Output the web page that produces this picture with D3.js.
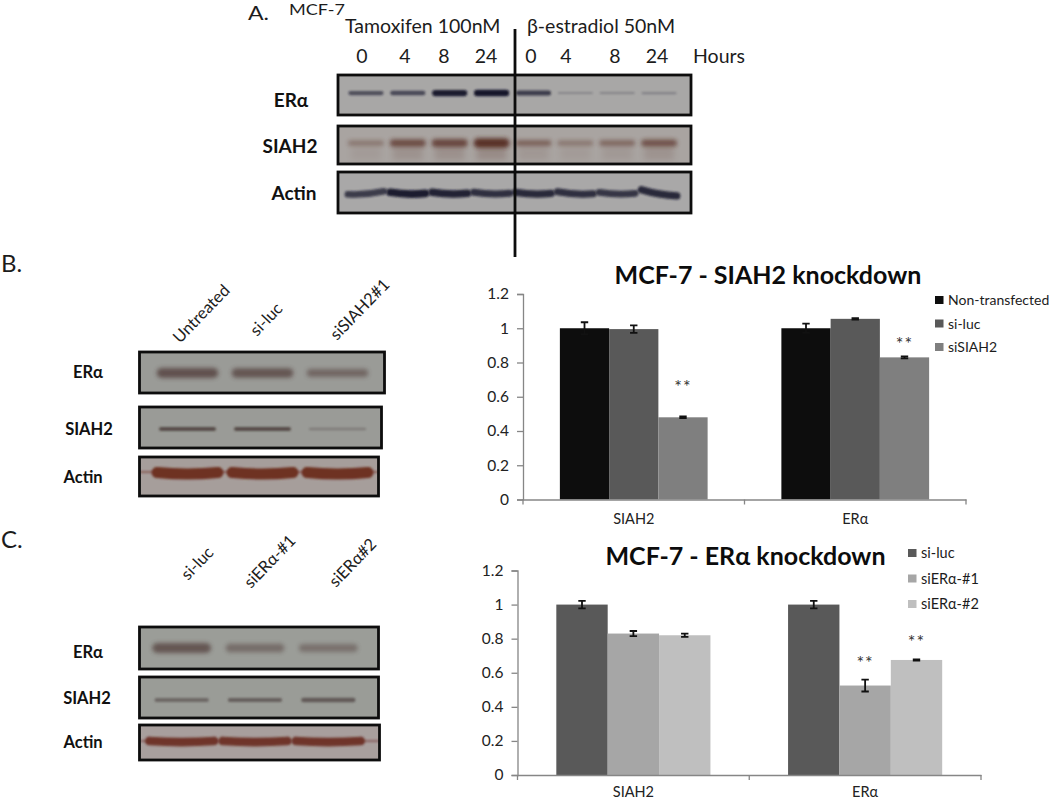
<!DOCTYPE html>
<html>
  <head>
    <title>MCF-7 knockdown</title>
    <script src="https://d3js.org/d3.v7.min.js"></script>
    <style>
      body { margin: 0; background: #fff; }
      text { font-family: Lato, "Open Sans", sans-serif; fill: #1c1c1c; }
      .row-label { font-weight: 700; fill: #111; }
      .title { font-weight: 700; fill: #0c0c0c; }
      .axis text { fill: #222; }
    </style>
  </head>
  <body>
    <svg width="1050" height="800"></svg>
    <script>
      // bar charts
      const geneCategories = ["SIAH2", "ERα"];
      const yTicks = [0, 0.2, 0.4, 0.6, 0.8, 1, 1.2];

      const siahSeries = ["Non-transfected", "si-luc", "siSIAH2"];
      const siahValues = [[1, 0.995, 0.48], [1, 1.055, 0.83]];
      const siahErrors = [[0.035, 0.022, 0.005], [0.027, 0.004, 0.006]];
      const siahStars = [[null, null, 0.668], [null, null, 0.922]];

      const erSeries = ["si-luc", "siERα-#1", "siERα-#2"];
      const erValues = [[1, 0.83, 0.82], [1, 0.525, 0.675]];
      const erErrors = [[0.022, 0.015, 0.01], [0.022, 0.035, 0.004]];
      const erStars = [[null, null, null], [null, 0.671, 0.79]];

      // blots: relative band intensity per lane
      const hourLanes = ["0", "4", "8", "24", "0 ", "4 ", "8 ", "24 "];
      const hourERa = [0.55, 0.6, 0.95, 1, 0.7, 0.12, 0.14, 0.15];
      const hourSIAH2 = [0.3, 0.65, 0.7, 0.9, 0.45, 0.3, 0.4, 0.6];
      const hourActin = [0.7, 0.95, 0.9, 0.8, 0.85, 0.8, 0.75, 0.85];

      const siahLanes = ["Untreated", "si-luc", "siSIAH2#1"];
      const siahLaneERa = [0.7, 0.65, 0.45];
      const siahLaneSIAH2 = [0.7, 0.7, 0.2];
      const siahLaneActin = [1, 1, 1];

      const erLanes = ["si-luc", "siERα-#1", "siERα#2"];
      const erLaneERa = [0.65, 0.4, 0.35];
      const erLaneSIAH2 = [0.45, 0.55, 0.6];
      const erLaneActin = [0.95, 0.95, 0.95];

      const svg = d3.select("svg");

      function addBlur(id, dev) {
        svg.append("filter")
            .attr("id", id)
            .attr("filterUnits", "userSpaceOnUse")
            .attr("x", 0).attr("y", 0)
            .attr("width", 1050).attr("height", 800)
          .append("feGaussianBlur")
            .attr("stdDeviation", dev);
      }
      addBlur("soft", 2);
      addBlur("softer", 3);
      addBlur("sharp", 0.8);

      function label(x, y, str, size, cls) {
        return svg.append("text")
          .attr("class", cls || null)
          .attr("x", x)
          .attr("y", y)
          .attr("font-size", size)
          .text(str);
      }

      function blot(props) {
        const lanes = d3.scaleBand().domain(props.lanes).range(props.laneRange);
        const g = svg.append("g");
        const w = props.x1 - props.x0;
        const h = props.y1 - props.y0;
        const clipId = "clip" + props.y0;

        g.append("clipPath").attr("id", clipId)
          .append("rect")
            .attr("x", props.x0).attr("y", props.y0)
            .attr("width", w).attr("height", h);
        g.append("rect")
            .attr("x", props.x0).attr("y", props.y0)
            .attr("width", w).attr("height", h)
            .attr("fill", props.fill);

        const inner = g.append("g").attr("clip-path", `url(#${clipId})`);

        if (props.trace) {
          inner.append("line")
              .attr("x1", props.x0).attr("x2", props.x1)
              .attr("y1", props.bandY - props.trace).attr("y2", props.bandY - props.trace)
              .attr("stroke", props.color)
              .attr("stroke-opacity", 0.7)
              .attr("stroke-width", 1.6)
              .attr("filter", "url(#sharp)");
        }
        if (props.smear) {
          inner.selectAll(".smear")
            .data(props.values)
            .join("rect")
              .attr("class", "smear")
              .attr("x", (d, i) => lanes(props.lanes[i]) + 6)
              .attr("width", lanes.bandwidth() - 12)
              .attr("y", props.bandY + 3)
              .attr("height", props.smear)
              .attr("fill", props.color)
              .attr("opacity", d => d * 0.22)
              .attr("filter", "url(#softer)");
        }

        const thick = d3.scaleLinear().domain([0, 1]).range(props.thickness);
        const alpha = d3.scaleLinear().domain([0, 1]).range([0.12, props.maxAlpha || 1]);
        const fill = props.fillFraction || 0.8;
        inner.selectAll(".band")
          .data(props.values)
          .join("path")
            .attr("class", "band")
            .attr("d", (d, i) => {
              const c = lanes(props.lanes[i]) + lanes.bandwidth() / 2;
              const half = lanes.bandwidth() * fill / 2 - thick(d) / 2;
              const sag = props.sag || 0;
              const tilt = props.tilt ? props.tilt[i] : 0;
              const y = props.bandY;
              return `M${c - half},${y + tilt - sag}Q${c},${y + sag} ${c + half},${y - tilt - sag}`;
            })
            .attr("fill", "none")
            .attr("stroke", props.color)
            .attr("stroke-width", d => thick(d))
            .attr("stroke-linecap", "round")
            .attr("opacity", alpha)
            .attr("filter", `url(#${props.blur || "soft"})`);

        g.append("rect")
            .attr("x", props.x0).attr("y", props.y0)
            .attr("width", w).attr("height", h)
            .attr("fill", "none")
            .attr("stroke", "#0d0d0d")
            .attr("stroke-width", 2.8);
      }

      function barChart(props) {
        const g = svg.append("g");
        const x = d3.scaleBand()
          .domain(geneCategories)
          .range([props.x0, props.x1]);
        const y = d3.scaleLinear()
          .domain([0, 1.2])
          .range([props.y0, props.y1]);
        const xSeries = d3.scaleBand()
          .domain(props.series)
          .range([0, x.bandwidth()])
          .paddingOuter(props.padding / (1 - props.padding) * 1.5)
          .paddingInner(0);
        const color = d3.scaleOrdinal().domain(props.series).range(props.colors);

        const groups = g.selectAll(".group")
          .data(geneCategories)
          .join("g")
            .attr("class", "group")
            .attr("transform", d => `translate(${x(d)},0)`);

        groups.each(function (cat, c) {
          const rows = props.series.map((s, i) => ({
            name: s,
            value: props.values[c][i],
            err: props.errors[c][i],
            star: props.stars[c][i]
          }));
          const group = d3.select(this);
          group.selectAll("rect")
            .data(rows)
            .join("rect")
              .attr("x", d => xSeries(d.name))
              .attr("width", xSeries.bandwidth())
              .attr("y", d => y(d.value))
              .attr("height", d => y(0) - y(d.value))
              .attr("fill", d => color(d.name));

          const cx = d => xSeries(d.name) + xSeries.bandwidth() / 2;
          group.selectAll(".err")
            .data(rows)
            .join("path")
              .attr("class", "err")
              .attr("fill", "none")
              .attr("stroke", "#111")
              .attr("stroke-width", 1.8)
              .attr("d", d => {
                const top = y(d.value + d.err);
                const bot = y(d.value - d.err);
                return `M${cx(d) - 3.7},${top}H${cx(d) + 3.7}M${cx(d)},${top}V${bot}M${cx(d) - 3.7},${bot}H${cx(d) + 3.7}`;
              });

          group.selectAll(".stars")
            .data(rows.filter(d => d.star !== null))
            .join("text")
              .attr("class", "stars")
              .attr("x", cx)
              .attr("y", d => y(d.star) + 8)
              .attr("text-anchor", "middle")
              .attr("font-size", 18)
              .attr("letter-spacing", 1)
              .style("fill", "#333")
              .text("**");
        });

        const yAxis = d3.axisLeft(y)
          .tickValues(yTicks)
          .tickFormat(d => d)
          .tickSize(6)
          .tickPadding(8);
        g.append("g")
            .attr("class", "axis")
            .attr("transform", `translate(${props.x0},0)`)
            .call(yAxis)
            .call(a => a.selectAll("path,line").attr("stroke", "#868686").attr("stroke-width", 1.3))
            .call(a => a.selectAll("text").attr("font-size", 15.5).attr("font-family", "Lato"));

        const xAxis = d3.axisBottom(x).tickSize(0).tickPadding(props.xPad);
        g.append("g")
            .attr("class", "axis")
            .attr("transform", `translate(0,${props.y0})`)
            .call(xAxis)
            .call(a => a.select("path").attr("stroke", "#868686").attr("stroke-width", 1.3))
            .call(a => a.selectAll("text").attr("font-size", 14.5).attr("font-family", "Lato"));

        g.selectAll(".boundary")
          .data(d3.range(geneCategories.length + 1))
          .join("line")
            .attr("class", "boundary")
            .attr("x1", d => props.x0 + d * x.step())
            .attr("x2", d => props.x0 + d * x.step())
            .attr("y1", props.y0)
            .attr("y2", props.y0 + 5)
            .attr("stroke", "#868686")
            .attr("stroke-width", 1.3);

        // legend
        const legend = g.selectAll(".legend")
          .data(props.series)
          .join("g")
            .attr("class", "legend")
            .attr("transform", (d, i) => `translate(${props.legendX},${props.legendY + i * props.legendStep})`);
        legend.append("rect")
            .attr("width", 8.5).attr("height", 8)
            .attr("fill", d => color(d));
        legend.append("text")
            .attr("x", 13).attr("y", 9)
            .attr("font-size", props.legendFont)
            .text(d => d);
      }

      // panel A
      label(248, 20, "A.", 20).attr("textLength", 21).attr("lengthAdjust", "spacingAndGlyphs");
      label(289, 15, "MCF-7", 15).attr("textLength", 56).attr("lengthAdjust", "spacingAndGlyphs");
      label(345, 33, "Tamoxifen 100nM", 19.5);
      label(527, 33, "β-estradiol 50nM", 19.5);
      const hourX = [362, 405, 444, 486, 531, 566, 615, 657];
      svg.selectAll(".hour")
        .data(hourLanes)
        .join("text")
          .attr("class", "hour")
          .attr("x", (d, i) => hourX[i])
          .attr("y", 63)
          .attr("text-anchor", "middle")
          .attr("font-size", 19.5)
          .text(d => d.trim());
      label(693, 63, "Hours", 19.5);

      label(291, 107, "ERα", 19, "row-label").attr("text-anchor", "middle");
      label(290, 153, "SIAH2", 19, "row-label").attr("text-anchor", "middle");
      label(294, 200, "Actin", 19, "row-label").attr("text-anchor", "middle");

      blot({
        x0: 338, x1: 691, y0: 75, y1: 115, fill: "#a8a7a6", lanes: hourLanes, laneRange: [345, 680],
        values: hourERa, bandY: 93, color: "#14142c", thickness: [1.5, 6.5], fillFraction: 0.84, blur: "sharp"
      });
      blot({
        x0: 338, x1: 691, y0: 126, y1: 164, fill: "#a9a4a1", lanes: hourLanes, laneRange: [345, 680],
        values: hourSIAH2, bandY: 143, color: "#52281c", thickness: [3, 10], smear: 14, fillFraction: 0.86, blur: "soft"
      });
      blot({
        x0: 338, x1: 691, y0: 172, y1: 213, fill: "#a9a8a8", lanes: hourLanes, laneRange: [345, 680],
        values: hourActin, bandY: 194, color: "#14142a", thickness: [3, 8], sag: 1.2, fillFraction: 1.02,
        tilt: [1.5, -0.5, -0.5, -0.5, -0.5, -1, -0.5, -3], blur: "sharp"
      });

      svg.append("line")
          .attr("x1", 515).attr("x2", 515)
          .attr("y1", 29).attr("y2", 257)
          .attr("stroke", "#0c0c0c")
          .attr("stroke-width", 2.8);

      // panel B
      label(1, 272, "B.", 24);
      function rotated(x, y, str) {
        svg.append("text")
          .attr("transform", `translate(${x},${y}) rotate(-46)`)
          .attr("font-size", 16.5)
          .text(str);
      }
      rotated(180, 344, "Untreated");
      rotated(257, 337, "si-luc");
      rotated(337, 341, "siSIAH2#1");

      label(88, 378, "ERα", 16.5, "row-label").attr("text-anchor", "middle");
      label(89, 435, "SIAH2", 16.5, "row-label").attr("text-anchor", "middle");
      label(83, 483, "Actin", 16.5, "row-label").attr("text-anchor", "middle");

      blot({
        x0: 139.5, x1: 384.5, y0: 352, y1: 393, fill: "#9a9b97", lanes: siahLanes, laneRange: [150, 375],
        values: siahLaneERa, bandY: 373, color: "#4e3836", thickness: [5, 12], fillFraction: 0.82, blur: "soft"
      });
      blot({
        x0: 139.5, x1: 381.5, y0: 407, y1: 448, fill: "#9a9b97", lanes: siahLanes, laneRange: [150, 375],
        values: siahLaneSIAH2, bandY: 429, color: "#41302e", thickness: [2, 5], fillFraction: 0.76, blur: "sharp"
      });
      blot({
        x0: 139.5, x1: 378.5, y0: 457, y1: 496, fill: "#a69e9b", lanes: siahLanes, laneRange: [150, 375],
        values: siahLaneActin, bandY: 474, color: "#6e3022", thickness: [4, 11], sag: 1.5, fillFraction: 0.96,
        trace: 2, blur: "sharp"
      });

      // panel C
      label(1, 548, "C.", 24);
      rotated(188, 581, "si-luc");
      rotated(251, 589, "siERα-#1");
      rotated(336, 588, "siERα#2");

      label(88, 658, "ERα", 16.5, "row-label").attr("text-anchor", "middle");
      label(87, 704, "SIAH2", 16.5, "row-label").attr("text-anchor", "middle");
      label(83, 748, "Actin", 16.5, "row-label").attr("text-anchor", "middle");

      blot({
        x0: 139.5, x1: 378.5, y0: 627, y1: 669, fill: "#9b9d98", lanes: erLanes, laneRange: [145, 365],
        values: erLaneERa, bandY: 648, color: "#4e3836", thickness: [6, 12], fillFraction: 0.8, blur: "soft"
      });
      blot({
        x0: 139.5, x1: 378.5, y0: 677, y1: 718, fill: "#9a9c97", lanes: erLanes, laneRange: [145, 365],
        values: erLaneSIAH2, bandY: 700, color: "#453937", thickness: [2, 6], fillFraction: 0.74, blur: "sharp"
      });
      blot({
        x0: 139.5, x1: 379.5, y0: 725, y1: 760, fill: "#a89f9d", lanes: erLanes, laneRange: [145, 365],
        values: erLaneActin, bandY: 742, color: "#6d3226", thickness: [4, 9], sag: 1, fillFraction: 1,
        trace: 1, blur: "sharp"
      });

      // charts
      label(768, 284, "MCF-7 - SIAH2 knockdown", 25, "title").attr("text-anchor", "middle");
      barChart({
        x0: 523, x1: 966, y0: 499.5, y1: 294,
        series: siahSeries, values: siahValues, errors: siahErrors, stars: siahStars,
        colors: ["#0d0d0d", "#595959", "#7f7f7f"], padding: 0.333, xPad: 14,
        legendX: 935, legendY: 296, legendStep: 23.5, legendFont: 14
      });

      label(745.5, 565, "MCF-7 - ERα knockdown", 25, "title").attr("text-anchor", "middle");
      barChart({
        x0: 517.5, x1: 981, y0: 775, y1: 570.5,
        series: erSeries, values: erValues, errors: erErrors, stars: erStars,
        colors: ["#595959", "#a6a6a6", "#bfbfbf"], padding: 0.335, xPad: 12,
        legendX: 908, legendY: 549, legendStep: 25.5, legendFont: 14.5
      });
    </script>
  </body>
</html>
